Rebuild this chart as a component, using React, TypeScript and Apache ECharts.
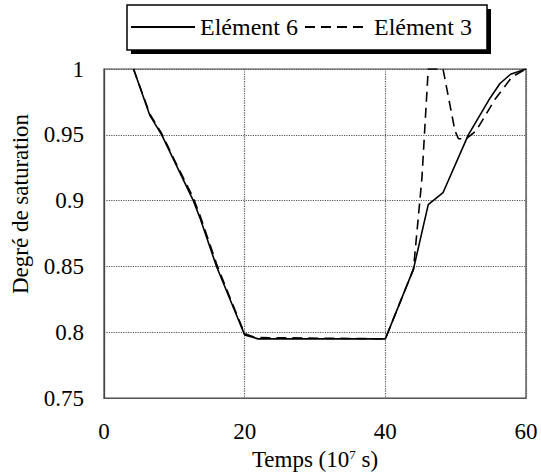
import React, { useEffect, useRef } from "react";
import * as echarts from "echarts";

const SERIES_NAMES = ["Elément 6", "Elément 3"];

const element6: [number, number][] = [
  [4.2, 1], [6.5, 0.965], [8.2, 0.95], [10, 0.93], [12.7, 0.9], [13.7, 0.886],
  [16, 0.85], [18, 0.824], [20, 0.798], [21.9, 0.795], [40, 0.795], [44, 0.848],
  [46.1, 0.897], [48.2, 0.906], [51.8, 0.95], [54.9, 0.978], [56.3, 0.989],
  [57.8, 0.996], [60, 1],
];

const element3: [number, number][] = [
  [4.2, 1], [6.5, 0.966], [8.2, 0.951], [10, 0.931], [12.7, 0.902], [13.7, 0.888],
  [16, 0.852], [18, 0.825], [20, 0.799], [21.5, 0.796], [40, 0.795], [44, 0.848],
  [44.7, 0.888], [45.2, 0.917], [46.1, 1], [48.2, 1], [49.9, 0.953], [50.4, 0.947],
  [51.5, 0.947], [52.9, 0.953], [55.6, 0.977], [58, 0.994], [60, 1],
];

const X_MIN = 0, X_MAX = 60, X_STEP = 20;
const Y_MIN = 0.75, Y_MAX = 1, Y_STEP = 0.05;
const X_TITLE = "Temps (10{sup|7} s)";
const Y_TITLE = "Degré de saturation";

const FONT = "Liberation Serif";

export default function App() {
  const ref = useRef<HTMLDivElement>(null);
  useEffect(() => {
    if (!ref.current) return;
    const chart = echarts.init(ref.current, undefined, { renderer: "svg" });
    chart.setOption({
      animation: false,
      backgroundColor: "#fff",
      textStyle: { fontFamily: FONT, color: "#000" },
      grid: { left: 104, right: 15, top: 69, bottom: 71, show: true, borderColor: "#444", borderWidth: 1.2 },
      graphic: [
        { type: "rect", z: 0, shape: { x: 131, y: 9, width: 360, height: 45 }, style: { fill: "#000" } },
        { type: "rect", z: 1, shape: { x: 127, y: 5, width: 360, height: 45 }, style: { fill: "#fff", stroke: "#000", lineWidth: 1.5 } },
        {
          type: "text", z: 5, x: 20, y: 204, rotation: Math.PI / 2,
          style: { text: Y_TITLE, fontFamily: FONT, fontSize: 23, fill: "#000", align: "center", verticalAlign: "middle" },
        },
      ],
      legend: {
        left: 127, top: 5, padding: [10, 19, 10, 3], itemWidth: 64, itemHeight: 14, itemGap: 6,
        textStyle: { fontFamily: FONT, fontSize: 24, color: "#000" },
        itemStyle: { color: "rgba(0,0,0,0)", borderWidth: 0, opacity: 0 },
        data: SERIES_NAMES,
        z: 10,
      },
      xAxis: {
        type: "value", min: X_MIN, max: X_MAX, interval: X_STEP,
        axisLine: { show: true, lineStyle: { color: "#555", width: 1.2 } },
        axisTick: { show: false },
        axisLabel: { fontFamily: FONT, fontSize: 23, color: "#000", margin: 22 },
        splitLine: { show: true, lineStyle: { type: "dotted", color: "#555", width: 1.2 } },
        name: X_TITLE, nameLocation: "middle", nameGap: 44,
        nameTextStyle: {
          fontFamily: FONT, fontSize: 23, color: "#000",
          rich: { sup: { fontFamily: FONT, fontSize: 13, color: "#000", verticalAlign: "top", padding: [0, 0, 10, 0] } },
        },
      },
      yAxis: {
        type: "value", min: Y_MIN, max: Y_MAX, interval: Y_STEP,
        axisLine: { show: true, lineStyle: { color: "#444", width: 1.2 } },
        axisTick: { show: false },
        axisLabel: { fontFamily: FONT, fontSize: 23, color: "#000", margin: 20 },
        splitLine: { show: true, lineStyle: { type: "dotted", color: "#555", width: 1.2 } },
      },
      series: [
        {
          name: SERIES_NAMES[0], type: "line", data: element6, symbol: "none",
          lineStyle: { color: "#000", width: 1.6, type: "solid" }, itemStyle: { color: "#000" },
        },
        {
          name: SERIES_NAMES[1], type: "line", data: element3, symbol: "none",
          lineStyle: { color: "#000", width: 1.6, type: [10, 6] }, itemStyle: { color: "#000" },
        },
      ],
    });
    return () => chart.dispose();
  }, []);
  return <div ref={ref} style={{ width: 541, height: 476, position: "absolute", left: 0, top: 0 }} />;
}
